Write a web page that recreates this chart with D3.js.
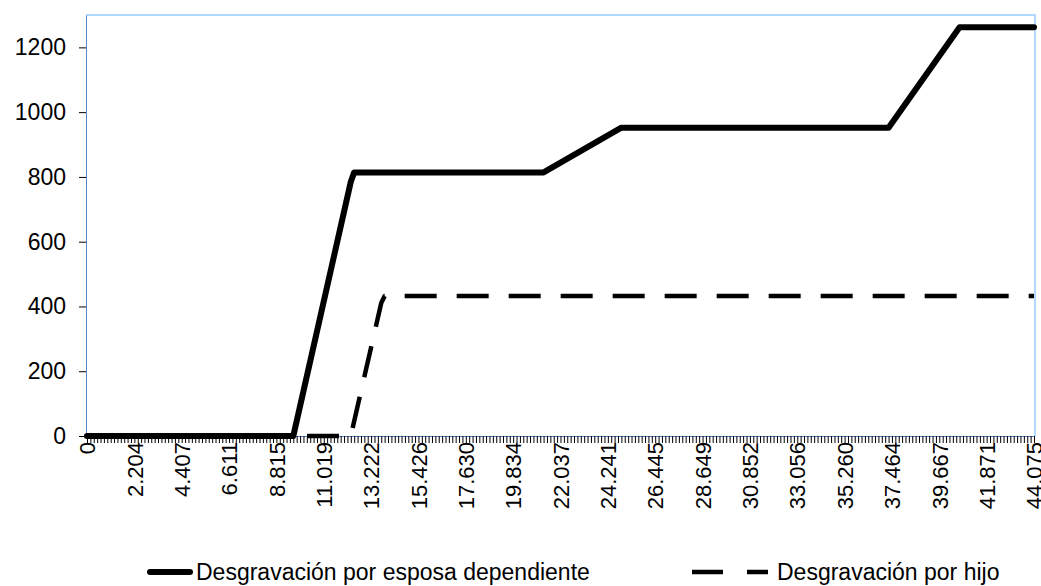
<!DOCTYPE html>
<html>
<head>
<meta charset="utf-8">
<script src="https://cdn.jsdelivr.net/npm/d3@7"></script>
<style>
  body { margin: 0; background: #fff; }
  svg { display: block; font-family: "Liberation Sans", Arial, sans-serif; }
</style>
</head>
<body>
<svg width="1041" height="586"></svg>
<script>
// x categories: 281 evenly spaced incomes, labelled every 14th
var categoryCount = 281;
var labelEvery = 14;
var xTickLabels = ["0", "2.204", "4.407", "6.611", "8.815", "11.019", "13.222",
  "15.426", "17.630", "19.834", "22.037", "24.241", "26.445", "28.649",
  "30.852", "33.056", "35.260", "37.464", "39.667", "41.871", "44.075"];
var yTicks = [0, 200, 400, 600, 800, 1000, 1200];

// breakpoints (category index -> value)
var esposaIdx = [0, 61, 78, 79, 135, 158, 237, 258, 280];
var esposaValues = [0, 0, 785, 814, 814, 952, 952, 1262, 1262];
var hijoIdx = [0, 78, 87, 88, 280];
var hijoValues = [0, 0, 411, 432, 432];

var seriesNames = ["Desgravación por esposa dependiente", "Desgravación por hijo"];

var svg = d3.select("svg"),
  plot = { left: 86, right: 1035, top: 15, bottom: 436 };

var x = d3.scalePoint()
  .domain(d3.range(categoryCount))
  .range([87, 1034]);
var y = d3.scaleLinear().domain([0, 1300]).range([plot.bottom, plot.top]);

// plot area border (top/right light blue)
svg.append("path")
  .attr("d", "M" + plot.left + "," + plot.top + "H" + plot.right + "V" + plot.bottom)
  .attr("fill", "none")
  .attr("stroke", "#99ccff")
  .attr("stroke-width", 1.5);

var xAxis = svg.append("g")
  .attr("transform", "translate(0," + plot.bottom + ")")
  .call(d3.axisBottom(x)
    .tickSize(7)
    .tickSizeOuter(0)
    .tickFormat(function (i) {
      return i % labelEvery === 0 ? xTickLabels[i / labelEvery] : "";
    }));
xAxis.select(".domain").attr("stroke", "#5b86c5").attr("d", "M" + plot.left + ",0.5H" + plot.right);
xAxis.selectAll(".tick line").attr("stroke", "#000");
xAxis.selectAll(".tick text")
  .attr("transform", "rotate(-90)")
  .attr("x", -6)
  .attr("y", 0)
  .attr("dy", "0.35em")
  .attr("text-anchor", "end")
  .attr("fill", "#000")
  .style("font-size", "22px");

var yAxis = svg.append("g")
  .attr("transform", "translate(" + plot.left + ",0)")
  .call(d3.axisLeft(y)
    .tickValues(yTicks)
    .tickFormat(d3.format("d"))
    .tickSize(7)
    .tickPadding(13)
    .tickSizeOuter(0));
yAxis.select(".domain").attr("stroke", "#5b86c5");
yAxis.selectAll(".tick line").attr("stroke", "#000");
yAxis.selectAll(".tick text")
  .attr("fill", "#000")
  .style("font-size", "23px");

var line = d3.line()
  .x(function (d) { return x(d[0]); })
  .y(function (d) { return y(d[1]); });

var hijoData = hijoIdx.map(function (d, i) { return [d, hijoValues[i]]; });
var esposaData = esposaIdx.map(function (d, i) { return [d, esposaValues[i]]; });

svg.append("path")
  .datum(hijoData)
  .attr("d", line)
  .attr("fill", "none")
  .attr("stroke", "#000")
  .attr("stroke-width", 4.5)
  .attr("stroke-dasharray", "32,20")
  .attr("stroke-dashoffset", 40)
  .attr("stroke-linejoin", "round");

svg.append("path")
  .datum(esposaData)
  .attr("d", line)
  .attr("fill", "none")
  .attr("stroke", "#000")
  .attr("stroke-width", 6)
  .attr("stroke-linejoin", "round")
  .attr("stroke-linecap", "round");

// legend
var legend = svg.append("g");
legend.append("line")
  .attr("x1", 150).attr("x2", 190).attr("y1", 572).attr("y2", 572)
  .attr("stroke", "#000").attr("stroke-width", 6).attr("stroke-linecap", "round");
legend.append("text")
  .attr("x", 196).attr("y", 580)
  .style("font-size", "23px")
  .text(seriesNames[0]);
legend.append("line")
  .attr("x1", 692).attr("x2", 768).attr("y1", 572).attr("y2", 572)
  .attr("stroke", "#000").attr("stroke-width", 4.5).attr("stroke-dasharray", "31,24");
legend.append("text")
  .attr("x", 777).attr("y", 580)
  .style("font-size", "23px")
  .text(seriesNames[1]);
</script>
</body>
</html>
